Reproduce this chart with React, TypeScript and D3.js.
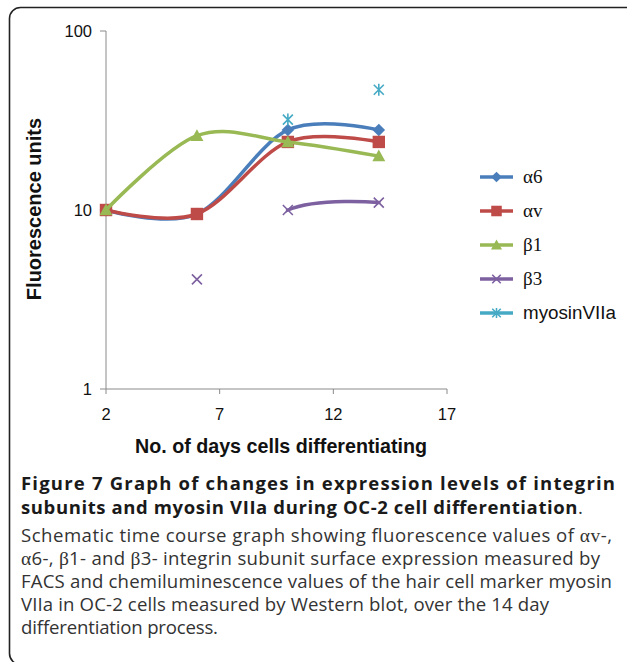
import * as d3 from "d3";

// days of differentiation measured
const days = [2, 6, 10, 14];
const xTicks = [2, 7, 12, 17];
const yTicks = [1, 10, 100];

// fluorescence / chemiluminescence units, null = not measured
const alpha6 = [10, 9.5, 28, 28];
const alphaV = [10, 9.5, 24, 24];
const beta1 = [10, 26, 24, 20];
const beta3 = [null, 4.1, 10, 11];
const myosin = [null, null, 32, 47];

const seriesNames = ["α6", "αv", "β1", "β3", "myosinVIIa"];
const seriesColors = ["#4A7EBB", "#BE4B48", "#98B954", "#7D60A0", "#46AAC5"];
const seriesShapes = ["diamond", "square", "triangle", "x", "star"];
const seriesValues = [alpha6, alphaV, beta1, beta3, myosin];
// day from which the smoothed line is visible (Excel hides the part before a blank cell)
const lineVisibleFrom = [2, 2, 2, 10, null];

const W = 627;
const H = 662;

const x = d3.scaleLinear().domain([2, 17]).range([106, 447]);
const y = d3.scaleLog().domain([1, 100]).range([389, 31]);

const smooth = d3
  .line<[number, number]>()
  .x((d) => x(d[0]))
  .y((d) => y(d[1]))
  .curve(d3.curveCatmullRom.alpha(0));

function Marker({ shape, cx, cy, color, s = 1 }: { shape: string; cx: number; cy: number; color: string; s?: number }) {
  if (shape === "diamond") {
    const r = 6.3 * s;
    return <path d={`M${cx},${cy - r}L${cx + r},${cy}L${cx},${cy + r}L${cx - r},${cy}Z`} fill={color} />;
  }
  if (shape === "square") {
    const r = 6.2 * s;
    return <rect x={cx - r} y={cy - r} width={2 * r} height={2 * r} fill={color} />;
  }
  if (shape === "triangle") {
    const r = 6.5 * s;
    return <path d={`M${cx},${cy - r}L${cx + r},${cy + r * 0.8}L${cx - r},${cy + r * 0.8}Z`} fill={color} />;
  }
  const r = 5 * s;
  const cross = `M${cx - r},${cy - r}L${cx + r},${cy + r}M${cx - r},${cy + r}L${cx + r},${cy - r}`;
  if (shape === "x") {
    return <path d={cross} stroke={color} strokeWidth={1.6} fill="none" />;
  }
  return <path d={`${cross}M${cx},${cy - r * 1.2}L${cx},${cy + r * 1.2}`} stroke={color} strokeWidth={1.6} fill="none" />;
}

const sans = "'Liberation Sans', Arial, Helvetica, sans-serif";
const serif = "'Liberation Serif', 'Times New Roman', serif";
const caption = "'Open Sans', 'Noto Sans', sans-serif";

export default function App() {
  const legendY = d3.scalePoint<string>().domain(seriesNames).range([177, 313]);

  return (
    <svg width={W} height={H} style={{ position: "absolute", left: 0, top: 0, background: "#fff" }}>
      <defs>
        {seriesNames.map((n, i) =>
          lineVisibleFrom[i] == null ? null : (
            <clipPath id={`vis${i}`} key={n}>
              <rect x={x(lineVisibleFrom[i] as number) - 2} y={0} width={W} height={H} />
            </clipPath>
          )
        )}
      </defs>
      <rect x={9.5} y={7.5} width={640} height={657} rx={11} fill="none" stroke="#222" strokeWidth={1.6} />

      {/* axes */}
      <g stroke="#8a8a8a" strokeWidth={1} fill="none">
        <line x1={x(2)} x2={x(2)} y1={y(100)} y2={y(1)} />
        <line x1={x(2)} x2={x(17)} y1={y(1)} y2={y(1)} />
        {yTicks.map((t) => (
          <line key={t} x1={x(2) - 6} x2={x(2)} y1={y(t)} y2={y(t)} />
        ))}
        {xTicks.map((t) => (
          <line key={t} x1={x(t)} x2={x(t)} y1={y(1)} y2={y(1) + 5} />
        ))}
      </g>
      <g fontFamily={sans} fontSize={16.5} fill="#111">
        {yTicks.map((t) => (
          <text key={t} x={x(2) - 14} y={y(t) + 6} textAnchor="end">
            {t}
          </text>
        ))}
        {xTicks.map((t) => (
          <text key={t} x={x(t)} y={y(1) + 31} textAnchor="middle">
            {t}
          </text>
        ))}
      </g>
      <text
        transform="translate(41,209) rotate(-90)"
        textAnchor="middle"
        fontFamily={sans}
        fontWeight="bold"
        fontSize={20}
        fill="#111"
      >
        Fluorescence units
      </text>
      <text x={281} y={453} textAnchor="middle" fontFamily={sans} fontWeight="bold" fontSize={19.7} fill="#111">
        No. of days cells differentiating
      </text>

      {/* series */}
      {seriesValues.map((vals, i) => {
        const pts = days
          .map((d, k) => [d, vals[k]] as [number, number | null])
          .filter((p) => p[1] != null) as [number, number][];
        return (
          <g key={seriesNames[i]}>
            {lineVisibleFrom[i] != null && (
              <path
                d={smooth(pts) ?? ""}
                clipPath={`url(#vis${i})`}
                fill="none"
                stroke={seriesColors[i]}
                strokeWidth={3.5}
                strokeLinecap="round"
              />
            )}
            {pts.map(([d, v]) => (
              <Marker key={d} shape={seriesShapes[i]} cx={x(d)} cy={y(v)} color={seriesColors[i]} />
            ))}
          </g>
        );
      })}

      {/* legend */}
      {seriesNames.map((name, i) => {
        const ly = legendY(name) as number;
        return (
          <g key={name}>
            <line x1={480} x2={513} y1={ly} y2={ly} stroke={seriesColors[i]} strokeWidth={3.5} />
            <Marker shape={seriesShapes[i]} cx={496.5} cy={ly} color={seriesColors[i]} s={0.85} />
            <text
              x={523}
              y={ly + 6}
              fontFamily={i < 4 ? serif : sans}
              fontSize={i < 4 ? 19 : 18.8}
              fill="#111"
            >
              {name}
            </text>
          </g>
        );
      })}

      {/* caption */}
      <g fontFamily={caption} fontSize={18.6} fill="#333">
        <text x={21} y={490} fontWeight="bold" fontSize={18.5} fill="#1a1a1a" textLength={594} lengthAdjust="spacing">
          Figure 7 Graph of changes in expression levels of integrin
        </text>
        <text x={21} y={514} textLength={562} lengthAdjust="spacing">
          <tspan fontWeight="bold" fontSize={18.5} fill="#1a1a1a">
            subunits and myosin VIIa during OC-2 cell differentiation
          </tspan>
          .
        </text>
        <text x={21} y={542} textLength={591} lengthAdjust="spacing">
          Schematic time course graph showing fluorescence values of{" "}
          <tspan fontFamily={serif} fontSize={19.5}>αv</tspan>-,
        </text>
        <text x={21} y={565} textLength={579} lengthAdjust="spacing">
          <tspan fontFamily={serif} fontSize={19.5}>α</tspan>6-,{" "}
          <tspan fontFamily={serif} fontSize={19.5}>β</tspan>1- and{" "}
          <tspan fontFamily={serif} fontSize={19.5}>β</tspan>3- integrin subunit surface expression measured by
        </text>
        <text x={21} y={588} textLength={591} lengthAdjust="spacing">
          FACS and chemiluminescence values of the hair cell marker myosin
        </text>
        <text x={21} y={611} textLength={528} lengthAdjust="spacing">
          VIIa in OC-2 cells measured by Western blot, over the 14 day
        </text>
        <text x={21} y={634} textLength={197} lengthAdjust="spacing">
          differentiation process.
        </text>
      </g>
    </svg>
  );
}
